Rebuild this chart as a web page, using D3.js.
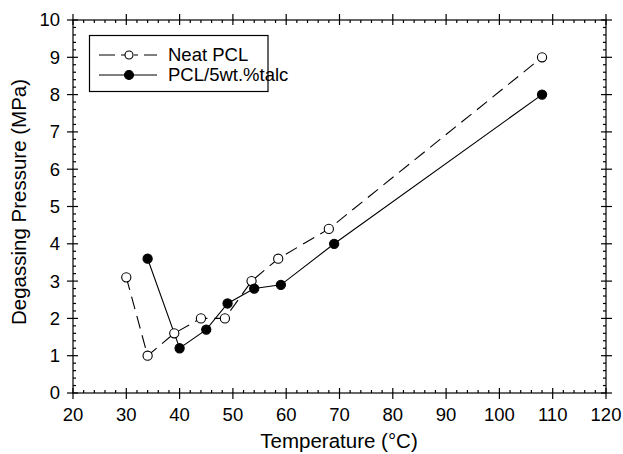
<!DOCTYPE html>
<html>
<head>
<meta charset="utf-8">
<script src="https://cdn.jsdelivr.net/npm/d3@7"></script>
<style>
  body { margin: 0; background: #fff; }
  svg { font-family: "Liberation Sans", Arial, sans-serif; }
</style>
</head>
<body>
<svg id="chart" width="623" height="454"></svg>
<script>
// donnees
const neatTemp = [30, 34, 39, 44, 48.5, 53.5, 58.5, 68, 108];
const neatPressure = [3.1, 1.0, 1.6, 2.0, 2.0, 3.0, 3.6, 4.4, 9.0];
const talcTemp = [34, 40, 45, 49, 54, 59, 69, 108];
const talcPressure = [3.6, 1.2, 1.7, 2.4, 2.8, 2.9, 4.0, 8.0];
const xTicks = [20, 30, 40, 50, 60, 70, 80, 90, 100, 110, 120];
const yTicks = [0, 1, 2, 3, 4, 5, 6, 7, 8, 9, 10];
const seriesNames = ["Neat PCL", "PCL/5wt.%talc"];

const svg = d3.select('#chart');
const pLeft = 73, pRight = 606, pTop = 20, pBottom = 393;

const x = d3.scaleLinear().domain([20, 120]).range([pLeft, pRight]);
const y = d3.scaleLinear().domain([0, 10]).range([pBottom, pTop]);

const xMinor = d3.range(20, 120.01, 2).filter(v => v % 10 !== 0);
const yMinor = d3.range(0, 10.001, 0.2).map(v => +v.toFixed(1)).filter(v => Math.abs(v - Math.round(v)) > 1e-6);

// === Axes (cadre + graduations) ===
const axes = svg.append('g').attr('stroke', '#000').attr('stroke-width', 1.2);
axes.append('rect')
  .attr('x', pLeft).attr('y', pTop)
  .attr('width', pRight - pLeft).attr('height', pBottom - pTop)
  .attr('fill', 'none');

// grandes graduations : traversent l'axe
xTicks.forEach(v => {
  axes.append('line').attr('x1', x(v)).attr('x2', x(v)).attr('y1', pBottom - 5).attr('y2', pBottom + 6);
  axes.append('line').attr('x1', x(v)).attr('x2', x(v)).attr('y1', pTop - 6).attr('y2', pTop + 5);
});
yTicks.forEach(v => {
  axes.append('line').attr('y1', y(v)).attr('y2', y(v)).attr('x1', pLeft - 6).attr('x2', pLeft + 5);
  axes.append('line').attr('y1', y(v)).attr('y2', y(v)).attr('x1', pRight - 5).attr('x2', pRight + 6);
});
// petites graduations : vers l'interieur
xMinor.forEach(v => {
  axes.append('line').attr('x1', x(v)).attr('x2', x(v)).attr('y1', pBottom).attr('y2', pBottom - 3);
  axes.append('line').attr('x1', x(v)).attr('x2', x(v)).attr('y1', pTop).attr('y2', pTop + 3);
});
yMinor.forEach(v => {
  axes.append('line').attr('y1', y(v)).attr('y2', y(v)).attr('x1', pLeft).attr('x2', pLeft + 3);
  axes.append('line').attr('y1', y(v)).attr('y2', y(v)).attr('x1', pRight).attr('x2', pRight - 3);
});

// labels des graduations
svg.append('g').selectAll('text').data(xTicks).enter().append('text')
  .attr('x', d => x(d)).attr('y', 421)
  .attr('text-anchor', 'middle')
  .style('font-size', '18.5px')
  .text(d => d);

svg.append('g').selectAll('text').data(yTicks).enter().append('text')
  .attr('x', 60).attr('y', d => y(d)).attr('dy', '0.35em')
  .attr('text-anchor', 'end')
  .style('font-size', '18.5px')
  .text(d => d);

// titres des axes
svg.append('text')
  .attr('x', 339).attr('y', 448)
  .attr('text-anchor', 'middle')
  .style('font-size', '20.5px')
  .text('Temperature (°C)');

svg.append('text')
  .attr('transform', `translate(26,202) rotate(-90)`)
  .attr('text-anchor', 'middle')
  .style('font-size', '20.5px')
  .text('Degassing Pressure (MPa)');

// === Courbes ===
const line = d3.line().x(d => x(d[0])).y(d => y(d[1]));
const neat = neatTemp.map((t, i) => [t, neatPressure[i]]);
const talc = talcTemp.map((t, i) => [t, talcPressure[i]]);

svg.append('path').datum(neat)
  .attr('d', line).attr('fill', 'none')
  .attr('stroke', '#000').attr('stroke-width', 1.1)
  .attr('stroke-dasharray', '13,7');

svg.append('path').datum(talc)
  .attr('d', line).attr('fill', 'none')
  .attr('stroke', '#000').attr('stroke-width', 1.1);

svg.append('g').selectAll('circle').data(neat).enter().append('circle')
  .attr('cx', d => x(d[0])).attr('cy', d => y(d[1])).attr('r', 4.6)
  .attr('fill', '#fff').attr('stroke', '#000').attr('stroke-width', 1.1);

svg.append('g').selectAll('circle').data(talc).enter().append('circle')
  .attr('cx', d => x(d[0])).attr('cy', d => y(d[1])).attr('r', 4.6)
  .attr('fill', '#000').attr('stroke', '#000').attr('stroke-width', 1.1);

// === Legende ===
const legend = svg.append('g');
legend.append('rect')
  .attr('x', 89.5).attr('y', 35.5).attr('width', 178.5).attr('height', 56)
  .attr('fill', '#fff').attr('stroke', '#000').attr('stroke-width', 1.2);

const rows = [55, 75];
seriesNames.forEach((name, i) => {
  const ly = rows[i];
  const ln = legend.append('line')
    .attr('x1', 99).attr('x2', 157).attr('y1', ly).attr('y2', ly)
    .attr('stroke', '#000').attr('stroke-width', 1.1);
  if (i === 0) ln.attr('stroke-dasharray', '16,6,5,8,4,6,16');
  legend.append('circle')
    .attr('cx', 129).attr('cy', ly).attr('r', i === 0 ? 4 : 4.5)
    .attr('fill', i === 0 ? '#fff' : '#000')
    .attr('stroke', '#000').attr('stroke-width', 1.1);
  legend.append('text')
    .attr('x', 168).attr('y', ly).attr('dy', '0.35em')
    .style('font-size', '18.5px')
    .text(name);
});
</script>
</body>
</html>
